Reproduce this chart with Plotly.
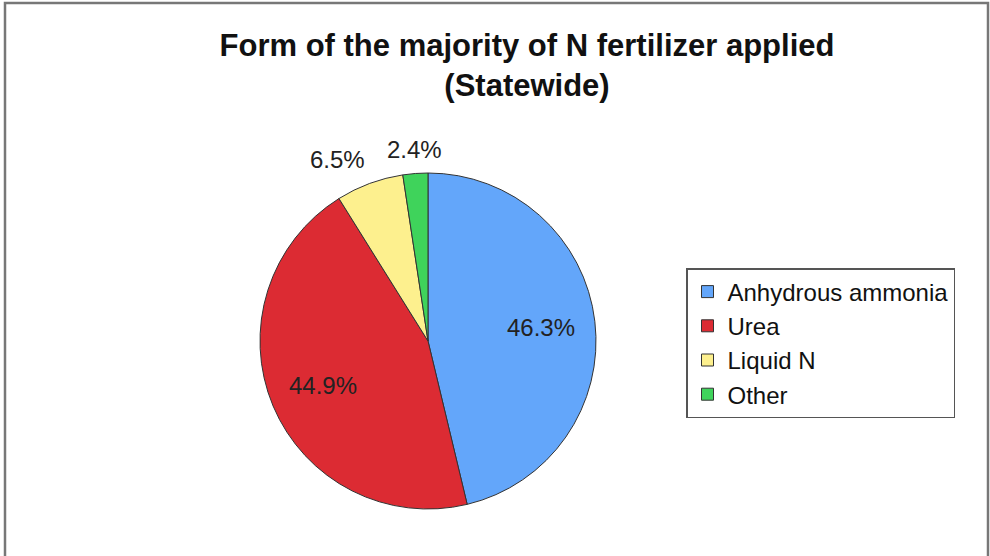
""" Pie chart: form of the majority of N fertilizer applied """
import math
import plotly.graph_objects as go

labels = ['Anhydrous ammonia', 'Urea', 'Liquid N', 'Other']
shares = [46.3, 44.9, 6.5, 2.4]
colors = ['#63A6FA', '#DC2B33', '#FDF08E', '#3FD35B']
outside = [False, False, True, True]

W, H = 990, 556
CX, CY, R = 428, 341, 168  # pie centre and radius in pixels


def px_x(x):
    return x / W


def px_y(y):
    return (H - y) / H


fig = go.Figure(go.Pie(
    labels=labels,
    values=shares,
    sort=False,
    direction='clockwise',
    rotation=0,
    marker=dict(colors=colors, line=dict(color='#333333', width=1)),
    textinfo='none',
    automargin=False,
    hoverinfo='label+percent',
    domain=dict(x=[px_x(CX - R), px_x(CX + R)], y=[px_y(CY + R), px_y(CY - R)]),
))

# data labels placed like the spreadsheet did: inside ones at ~0.68 r,
# small slices just outside the rim
annotations = []
total = sum(shares)
cum = 0
for val, out in zip(shares, outside):
    mid = 2 * math.pi * (cum + val / 2) / total
    cum += val
    sx, sy = math.sin(mid), -math.cos(mid)
    if out:
        dist = R + 9
        xa = 'right' if sx < -0.2 else ('left' if sx > 0.2 else 'center')
        ya = 'bottom'
    else:
        dist = 0.68 * R
        xa, ya = 'center', 'middle'
    annotations.append(dict(
        x=px_x(CX + dist * sx), y=px_y(CY + dist * sy),
        xref='paper', yref='paper', xanchor=xa, yanchor=ya,
        text=f'{val:.1f}%', showarrow=False,
        font=dict(family='Liberation Sans, Arial', size=24, color='#222222'),
    ))

fig.update_layout(
    width=W,
    height=H,
    margin=dict(l=0, r=0, t=0, b=0),
    paper_bgcolor='white',
    font=dict(family='Liberation Sans, Arial', color='#111111'),
    title=dict(
        text='<b>Form of the majority of N fertilizer applied<br>(Statewide)</b>',
        x=527 / W,
        xanchor='center',
        y=(H - 56) / H,
        yanchor='top',
        font=dict(size=31, color='#111111'),
    ),
    legend=dict(
        x=686 / W,
        y=(H - 268) / H,
        xanchor='left',
        yanchor='top',
        bordercolor='#555555',
        borderwidth=1.5,
        font=dict(size=24, color='#111111'),
        itemwidth=30,
        tracegroupgap=0,
    ),
    annotations=annotations,
    shapes=[dict(type='rect', xref='paper', yref='paper',
                 x0=5 / W, x1=988 / W, y0=-0.02, y1=(H - 3) / H,
                 line=dict(color='#777777', width=2.5))],
)

# the page body has a default 8px margin; drop it so the figure sits at 0,0
fig.write_html("out.html", config={'displayModeBar': False},
               post_script="document.body.style.margin='0px';")
